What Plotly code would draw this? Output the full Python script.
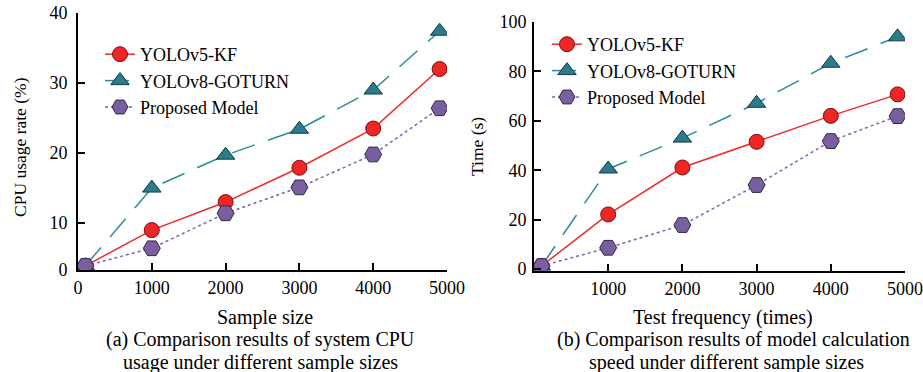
import plotly.graph_objects as go
from plotly.subplots import make_subplots

# ---- data ----
series_names = ["YOLOv5-KF", "YOLOv8-GOTURN", "Proposed Model"]

x_a = [100, 1000, 2000, 3000, 4000, 4900]
cpu_v5kf = [3.9, 9.0, 13.0, 17.9, 23.5, 32.0]
cpu_v8got = [3.9, 15.0, 19.7, 23.4, 29.0, 37.4]
cpu_prop = [3.9, 6.4, 11.4, 15.1, 19.8, 26.4]

x_b = [100, 1000, 2000, 3000, 4000, 4900]
time_v5kf = [1.2, 22.1, 41.1, 51.5, 62.0, 70.7]
time_v8got = [1.2, 40.5, 53.0, 67.1, 83.3, 94.0]
time_prop = [1.2, 8.6, 17.8, 34.0, 51.8, 61.9]

xa_tickvals = [0, 1000, 2000, 3000, 4000, 5000]
xa_ticktext = ["0", "1000", "2000", "3000", "4000", "5000"]
ya_tickvals = [3.3, 10, 20, 30, 40]
ya_ticktext = ["0", "10", "20", "30", "40"]
xb_tickvals = [1000, 2000, 3000, 4000, 5000]
yb_tickvals = [0, 20, 40, 60, 80, 100]

W, H = 923, 372
FONT = "Liberation Serif, Times New Roman, serif"

styles = {
    "YOLOv5-KF": dict(line=dict(color="#ee2b2b", width=1.5, dash="solid"),
                      marker=dict(symbol="circle", size=15, color="#ee2626",
                                  line=dict(color="#7a1010", width=1))),
    "YOLOv8-GOTURN": dict(line=dict(color="#2a8c9c", width=1.5, dash="24px,14px"),
                          marker=dict(symbol="triangle-up", size=16, color="#2b7b8b",
                                      line=dict(color="#103a44", width=1))),
    "Proposed Model": dict(line=dict(color="#7d62b0", width=1.5, dash="dot"),
                           marker=dict(symbol="hexagon2", size=17, color="#7a5fa0",
                                       line=dict(color="#33264a", width=1))),
}

fig = make_subplots(rows=1, cols=2)

def px_x(p):
    return p / W

def px_y(p):
    return 1 - p / H

order = [("YOLOv8-GOTURN", 2), ("YOLOv5-KF", 1), ("Proposed Model", 3)]
data_a = {"YOLOv5-KF": cpu_v5kf, "YOLOv8-GOTURN": cpu_v8got, "Proposed Model": cpu_prop}
data_b = {"YOLOv5-KF": time_v5kf, "YOLOv8-GOTURN": time_v8got, "Proposed Model": time_prop}

for name, rank in order:
    st = styles[name]
    fig.add_trace(go.Scatter(x=x_a, y=data_a[name], name=name, mode="lines+markers",
                             line=st["line"], marker=st["marker"], legend="legend",
                             legendrank=rank), row=1, col=1)
for name, rank in order:
    st = styles[name]
    fig.add_trace(go.Scatter(x=x_b, y=data_b[name], name=name, mode="lines+markers",
                             line=st["line"], marker=st["marker"], legend="legend2",
                             legendrank=rank), row=1, col=2)

axis_common = dict(showline=True, linecolor="black", linewidth=2, ticks="inside",
                   ticklen=7, tickwidth=1.5, tickcolor="black", showgrid=False,
                   zeroline=False, mirror=False, automargin=False,
                   tickfont=dict(family=FONT, size=18, color="black"))

fig.update_xaxes(domain=[px_x(78), px_x(447)], range=[0, 5000], tickvals=xa_tickvals,
                 ticktext=xa_ticktext, **axis_common, row=1, col=1)
fig.update_yaxes(domain=[px_y(270), px_y(13)], range=[3.3, 40], tickvals=ya_tickvals,
                 ticktext=ya_ticktext, ticklabelstandoff=5, **axis_common, row=1, col=1)
fig.update_xaxes(domain=[px_x(534), px_x(905)], range=[0, 5000], tickvals=xb_tickvals,
                 **axis_common, row=1, col=2)
fig.update_yaxes(domain=[px_y(271), px_y(22)], range=[-0.8, 100], tickvals=yb_tickvals,
                 ticklabelstandoff=2, **axis_common, row=1, col=2)

cap_font = dict(family=FONT, size=20, color="black")
xt_font = dict(family=FONT, size=20, color="black")
yt_font = dict(family=FONT, size=17.5, color="black")
annotations = [
    dict(text="Sample size", x=px_x(265), y=px_y(317), font=xt_font),
    dict(text="(a) Comparison results of system CPU", x=px_x(260), y=px_y(339), font=cap_font),
    dict(text="usage under different sample sizes", x=px_x(260), y=px_y(362), font=cap_font),
    dict(text="Test frequency (times)", x=px_x(723), y=px_y(317), font=xt_font),
    dict(text="(b) Comparison results of model calculation", x=px_x(733), y=px_y(339), font=cap_font),
    dict(text="speed under different sample sizes", x=px_x(726), y=px_y(362), font=cap_font),
    dict(text="CPU usage rate (%)", x=px_x(20), y=px_y(147), textangle=-90, font=yt_font),
    dict(text="Time (s)", x=px_x(477), y=px_y(147), textangle=-90, font=yt_font),
]
for a in annotations:
    a.update(xref="paper", yref="paper", showarrow=False,
             xanchor="center", yanchor="middle")

legend_common = dict(font=dict(family=FONT, size=18, color="black"),
                     bgcolor="rgba(0,0,0,0)", borderwidth=0, tracegroupgap=0,
                     xanchor="left", yanchor="top", itemsizing="trace")
fig.update_layout(
    width=W, height=H, margin=dict(l=0, r=0, t=0, b=0),
    paper_bgcolor="white", plot_bgcolor="white",
    showlegend=True,
    legend=dict(x=px_x(100), y=px_y(36), **legend_common),
    legend2=dict(x=px_x(547), y=px_y(26), **legend_common),
    annotations=annotations,
)

fig.write_html("out.html", config={"displayModeBar": False},
               post_script="document.body.style.margin='0';")
